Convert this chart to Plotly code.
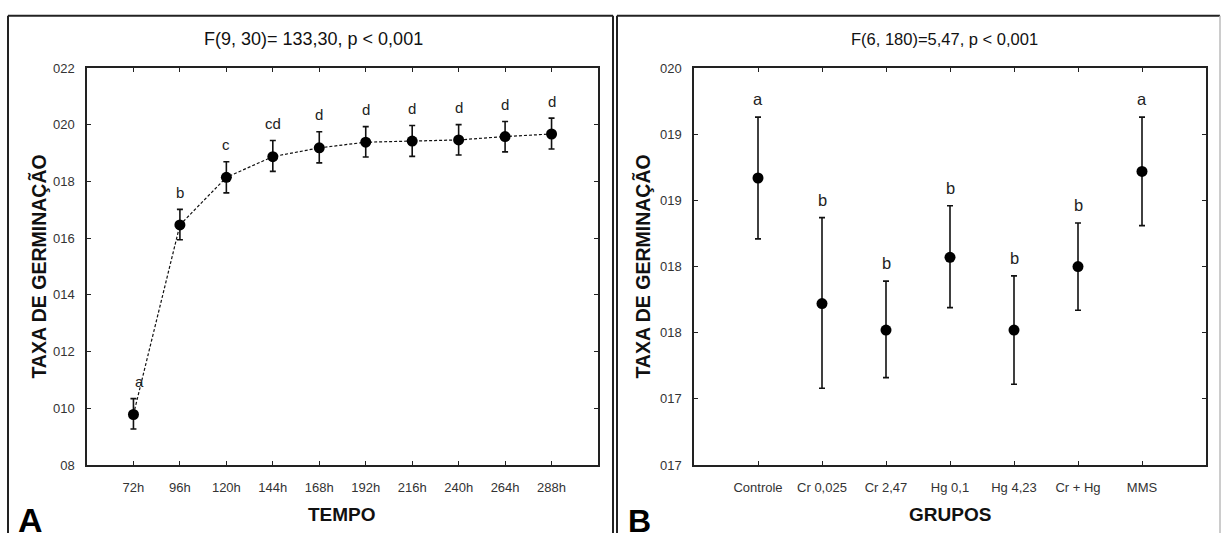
import plotly.graph_objects as go

W, H = 1222, 541

# ---------------- Panel A data ----------------
tempo = ["72h", "96h", "120h", "144h", "168h", "192h", "216h", "240h", "264h", "288h"]
taxa_a = [9.78, 16.47, 18.15, 18.88, 19.19, 19.39, 19.43, 19.47, 19.59, 19.68]
err_a_up = [0.56, 0.55, 0.55, 0.57, 0.57, 0.55, 0.55, 0.54, 0.53, 0.56]
err_a_dn = [0.51, 0.52, 0.55, 0.52, 0.53, 0.52, 0.54, 0.53, 0.54, 0.53]
letras_a = ["a", "b", "c", "cd", "d", "d", "d", "d", "d", "d"]
yticks_a = [8, 10, 12, 14, 16, 18, 20, 22]
yticktext_a = ["08", "010", "012", "014", "016", "018", "020", "022"]

# ---------------- Panel B data ----------------
grupos = ["Controle", "Cr 0,025", "Cr 2,47", "Hg 0,1", "Hg 4,23", "Cr + Hg", "MMS"]
taxa_b = [19.17, 18.22, 18.02, 18.57, 18.02, 18.50, 19.22]
err_b_up = [0.46, 0.65, 0.37, 0.39, 0.41, 0.33, 0.41]
err_b_dn = [0.46, 0.64, 0.36, 0.38, 0.41, 0.33, 0.41]
letras_b = ["a", "b", "b", "b", "b", "b", "a"]
yticks_b = [17.0, 17.5, 18.0, 18.5, 19.0, 19.5, 20.0]
yticktext_b = ["017", "017", "018", "018", "019", "019", "020"]

title_a = "F(9, 30)= 133,30, p < 0,001"
title_b = "F(6, 180)=5,47, p < 0,001"

FONT = "Liberation Sans, Arial, sans-serif"


def px(x):
    return x / W


def py(y):
    return 1 - y / H


fig = go.Figure()

fig.add_trace(go.Scatter(
    x=tempo, y=taxa_a, xaxis="x", yaxis="y", mode="lines+markers",
    line=dict(color="#111", width=1.2, dash="3px,2px"),
    marker=dict(color="#000", size=11),
    error_y=dict(type="data", symmetric=False, array=err_a_up, arrayminus=err_a_dn,
                 color="#111", thickness=1.6, width=3),
    showlegend=False,
))

fig.add_trace(go.Scatter(
    x=grupos, y=taxa_b, xaxis="x2", yaxis="y2", mode="markers",
    marker=dict(color="#000", size=11),
    error_y=dict(type="data", symmetric=False, array=err_b_up, arrayminus=err_b_dn,
                 color="#111", thickness=1.6, width=3),
    showlegend=False,
))

axis_common = dict(
    showgrid=False, zeroline=False, showline=True, linecolor="#222", linewidth=1.5,
    mirror="ticks", ticks="inside", ticklen=4, tickwidth=1.2, tickcolor="#222",
    tickfont=dict(family=FONT, size=13, color="#333"),
    fixedrange=True,
)

y_dom = [py(471), py(63)]

fig.update_layout(
    width=W, height=H, margin=dict(l=0, r=0, t=0, b=0),
    paper_bgcolor="white", plot_bgcolor="white",
    font=dict(family=FONT, color="#222"),
    xaxis=dict(domain=[px(87), px(598)], type="category", range=[-1, len(tempo)],
               anchor="y", ticklabelstandoff=10, **axis_common),
    yaxis=dict(domain=y_dom, range=[8, 22], tickvals=yticks_a, ticktext=yticktext_a,
               anchor="x", ticklabelstandoff=8, **axis_common),
    xaxis2=dict(domain=[px(694), px(1206)], type="category", range=[-1, len(grupos)],
                anchor="y2", ticklabelstandoff=10, **axis_common),
    yaxis2=dict(domain=y_dom, range=[17, 20], tickvals=yticks_b, ticktext=yticktext_b,
                anchor="x2", ticklabelstandoff=8, **axis_common),
)

ann = []
# significance letters
for i, (c, v, e, l) in enumerate(zip(tempo, taxa_a, err_a_up, letras_a)):
    ann.append(dict(x=c, y=v + e, xref="x", yref="y", text=l, showarrow=False,
                    yanchor="middle", yshift=17, xshift=(6 if i == 0 else 0),
                    font=dict(family=FONT, size=15, color="#222")))
for c, v, e, l in zip(grupos, taxa_b, err_b_up, letras_b):
    ann.append(dict(x=c, y=v + e, xref="x2", yref="y2", text=l, showarrow=False,
                    yanchor="middle", yshift=18,
                    font=dict(family=FONT, size=16.5, color="#222")))

# titles
ann.append(dict(x=px(313), y=py(33), xref="paper", yref="paper", text=title_a,
                showarrow=False, xanchor="center", yanchor="middle",
                font=dict(family=FONT, size=18, color="#111")))
ann.append(dict(x=px(944), y=py(33), xref="paper", yref="paper", text=title_b,
                showarrow=False, xanchor="center", yanchor="middle",
                font=dict(family=FONT, size=16.5, color="#111")))
# axis titles
for xc, txt in [(342, "<b>TEMPO</b>"), (950, "<b>GRUPOS</b>")]:
    ann.append(dict(x=px(xc), y=py(522), xref="paper", yref="paper", text=txt,
                    showarrow=False, xanchor="center", yanchor="middle",
                    font=dict(family=FONT, size=19, color="#111")))
for xc in [39, 643]:
    ann.append(dict(x=px(xc), y=py(267), xref="paper", yref="paper",
                    text="<b>TAXA DE GERMINAÇÃO</b>", textangle=-90,
                    showarrow=False, xanchor="center", yanchor="middle",
                    font=dict(family=FONT, size=19.5, color="#111")))
# panel letters
ann.append(dict(x=px(16), y=py(541), xref="paper", yref="paper", text="<b>A</b>",
                showarrow=False, xanchor="left", yanchor="bottom", yshift=-8,
                font=dict(family=FONT, size=34, color="#000")))
ann.append(dict(x=px(626), y=py(541), xref="paper", yref="paper", text="<b>B</b>",
                showarrow=False, xanchor="left", yanchor="bottom", yshift=-8,
                font=dict(family=FONT, size=32, color="#000")))

fig.update_layout(annotations=ann)

# panel frames
shapes = []
def line(x0, y0, x1, y1, color="#222", width=2):
    shapes.append(dict(type="line", xref="paper", yref="paper",
                       x0=px(x0), y0=py(y0), x1=px(x1), y1=py(y1),
                       line=dict(color=color, width=width)))

line(8, 9, 613, 9)
line(8, 9, 8, 541)
line(613, 9, 613, 541)
line(617, 9, 1220, 9)
line(617, 9, 617, 541)
line(1220, 9, 1220, 541, color="#bbb", width=1.5)
fig.update_layout(shapes=shapes)

fig.write_html("out.html")
